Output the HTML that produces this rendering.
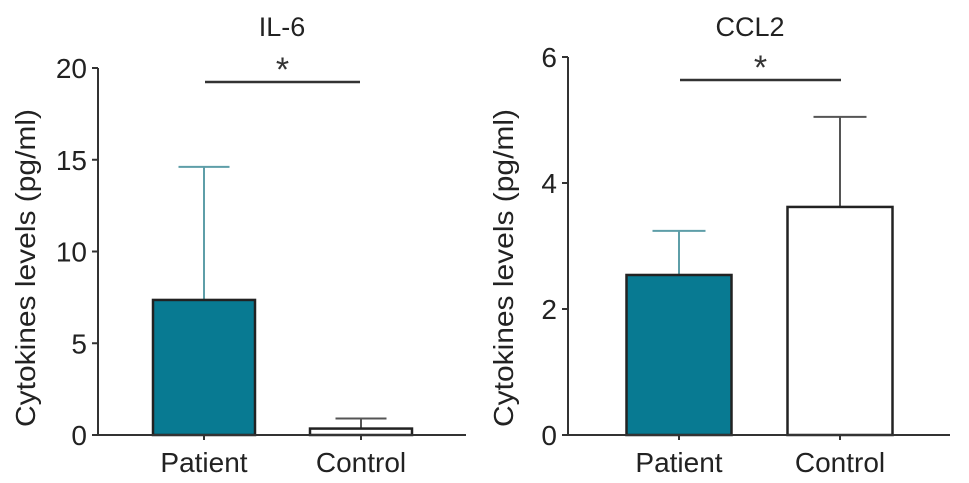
<!DOCTYPE html>
<html><head><meta charset="utf-8">
<style>
html,body{margin:0;padding:0;background:#fff;}
svg{display:block;font-family:"Liberation Sans",Arial,sans-serif;}
</style></head>
<body>
<svg id="fig" width="969" height="483" viewBox="0 0 969 483"></svg>
<script>
const categories = ["Patient", "Control"];
const il6Means = [7.36, 0.35];
const il6Errors = [7.25, 0.55];
const il6Ticks = [0, 5, 10, 15, 20];
const ccl2Means = [2.54, 3.62];
const ccl2Errors = [0.70, 1.43];
const ccl2Ticks = [0, 2, 4, 6];
const titles = ["IL-6", "CCL2"];

const NS = "http://www.w3.org/2000/svg";
const svg = document.getElementById("fig");
function mk(tag, attrs, parent) {
  const e = document.createElementNS(NS, tag);
  for (const k in attrs) e.setAttribute(k, attrs[k]);
  (parent || svg).appendChild(e);
  return e;
}

function drawPanel(cfg, means, errs, ticks, title, key) {
  const g = mk("g", {});
  
  
  const maxV = ticks[ticks.length - 1];
  const y = v => cfg.y0 - (v / maxV) * (cfg.y0 - cfg.yTop);
  const fills = ["#087a92", "#ffffff"];
  const errCols = ["#5e9ea8", "#555"];
  means.forEach((m, i) => {
    const cx = cfg.centers[i];
    const half = cfg.barW / 2;
    const eTop = y(m + errs[i]);
    const el = mk("line", {x1: cx, x2: cx, y1: y(m), y2: eTop, stroke: errCols[i], "stroke-width": 2}, g);
    
    
    const cap = mk("line", {x1: cx - cfg.capW/2, x2: cx + cfg.capW/2, y1: eTop, y2: eTop, stroke: errCols[i], "stroke-width": 2}, g);
    
    
    const r = mk("rect", {x: cx - half, y: y(m), width: cfg.barW, height: cfg.y0 - y(m), fill: fills[i], stroke: "#222", "stroke-width": 2.5}, g);
    
    
    const tk = mk("line", {x1: cx, x2: cx, y1: cfg.y0, y2: cfg.y0 + 5, stroke: "#333", "stroke-width": 2}, g);
    
    
    const lb = mk("text", {x: cx, y: 472, "text-anchor": "middle", "font-size": 28, fill: "#222"}, g);
    lb.textContent = categories[i];
    
    
  });
  const ya = mk("line", {x1: cfg.x0, x2: cfg.x0, y1: cfg.yTop, y2: cfg.y0 + 1, stroke: "#333", "stroke-width": 2}, g);
  
  
  const xa = mk("line", {x1: cfg.x0 - 5, x2: cfg.xEnd, y1: cfg.y0, y2: cfg.y0, stroke: "#333", "stroke-width": 2}, g);
  
  
  ticks.forEach(t => {
    const tl = mk("line", {x1: cfg.x0 - 6, x2: cfg.x0, y1: y(t), y2: y(t), stroke: "#333", "stroke-width": 2}, g);
    
    
    const tx = mk("text", {x: cfg.x0 - 11, y: y(t) + 10, "text-anchor": "end", "font-size": 28, fill: "#222"}, g);
    tx.textContent = t;
    
    
  });
  const yt = mk("text", {x: 0, y: 0, "text-anchor": "middle", "font-size": 28, fill: "#222", textLength: 318, lengthAdjust: "spacingAndGlyphs", transform: "translate(" + cfg.yTitleX + ",268) rotate(-90)"}, g);
  yt.textContent = "Cytokines levels (pg/ml)";
  
  
  const tt = mk("text", {x: cfg.titleX, y: 36, "text-anchor": "middle", "font-size": 27, fill: "#222"}, g);
  tt.textContent = title;
  
  
  const sl = mk("line", {x1: cfg.sig[0], x2: cfg.sig[1], y1: cfg.sigY, y2: cfg.sigY, stroke: "#333", "stroke-width": 2.5}, g);
  
  
  const st = mk("text", {x: (cfg.sig[0] + cfg.sig[1]) / 2, y: cfg.sigY - 1, "text-anchor": "middle", "font-size": 34, fill: "#333"}, g);
  st.textContent = "*";
  
  
}

drawPanel({x0: 98, xEnd: 466, y0: 435, yTop: 68, centers: [204, 361], barW: 102, capW: 51, sig: [205, 360], sigY: 82, titleX: 282, yTitleX: 35},
  il6Means, il6Errors, il6Ticks, titles[0], "il6");
drawPanel({x0: 568, xEnd: 950, y0: 435, yTop: 57, centers: [679, 840], barW: 105, capW: 53, sig: [680, 841], sigY: 80, titleX: 750, yTitleX: 513},
  ccl2Means, ccl2Errors, ccl2Ticks, titles[1], "ccl2");
</script>
</body></html>
